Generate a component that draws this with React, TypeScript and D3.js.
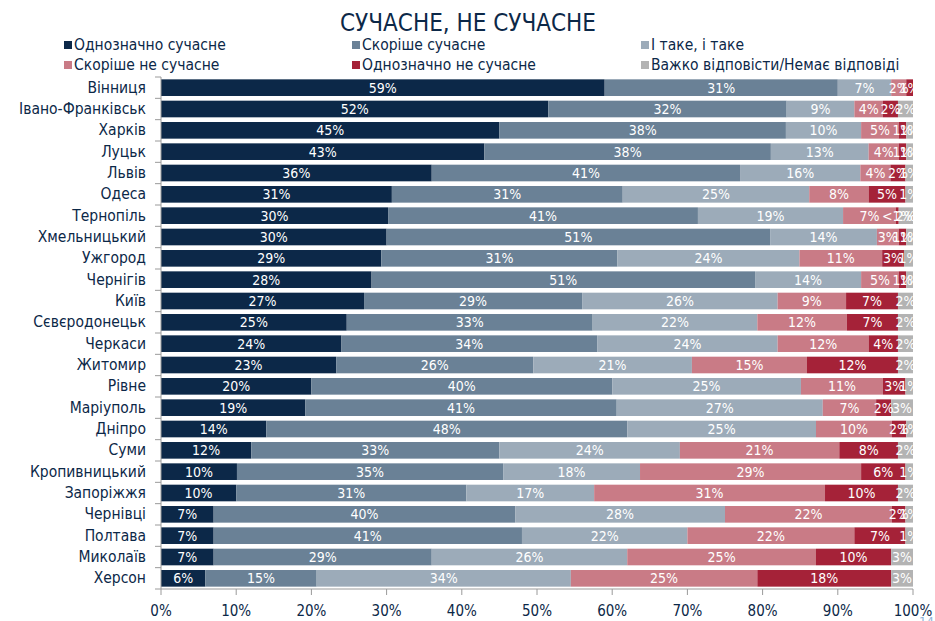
import React from "react";
import * as d3 from "d3";

const cities = ["Вінниця","Івано-Франківськ","Харків","Луцьк","Львів","Одеса","Тернопіль","Хмельницький","Ужгород","Чернігів","Київ","Сєвєродонецьк","Черкаси","Житомир","Рівне","Маріуполь","Дніпро","Суми","Кропивницький","Запоріжжя","Чернівці","Полтава","Миколаїв","Херсон"];

const seriesNames = ["Однозначно сучасне","Скоріше сучасне","І таке, і таке","Скоріше не сучасне","Однозначно не сучасне","Важко відповісти/Немає відповіді"];
const seriesColors = ["#0c2848","#6a8196","#9cabb9","#c97b86","#a52238","#b3b3b3"];

const definitelyModern = [59,51.5,45,43,36,30.7,30.2,30,29.3,28,27,24.7,24,23.3,20,19.2,14,12,10.1,10,7,7,7,5.9];
const ratherModern = [31,31.7,38.1,38.1,41,30.7,41.2,51,31.4,51,29,32.7,34,26.2,40,41.4,48,33,35.4,30.6,40.1,41,29,14.8];
const both = [7.1,9,10,13,16,24.8,19.3,14.2,24.2,14.1,26,21.9,24,21.1,25.1,27.4,25.1,24,18.2,17,27.9,22,26,33.8];
const ratherNot = [2,3.8,5,4,4,7.9,7,2.9,11,5,9.1,11.9,12.1,15.3,10.9,7.1,10.1,21.2,29.4,30.7,22.2,22.2,25.1,24.8];
const definitelyNot = [0.9,2,1,1,2,4.9,0.4,1,2.9,1,6.9,6.8,3.9,12.1,3,2,1.9,7.8,5.9,9.7,1.8,6.8,10,17.8];
const hardToSay = [0,2,0.9,0.9,1,1,1.9,0.9,1.2,0.9,2,2,2,2,1,2.9,0.9,2,1,2,1,1,2.9,2.9];

const xTicks = [0,10,20,30,40,50,60,70,80,90,100];

const W = 935, H = 621;
const margin = { left: 161, right: 22, top: 77, bottom: 32 };
const FONT = "'Liberation Sans Narrow', 'DejaVu Sans Condensed', 'Open Sans', sans-serif";

export default function App() {
  const series = [definitelyModern, ratherModern, both, ratherNot, definitelyNot, hardToSay];
  const x = d3.scaleLinear().domain([0, 100]).range([margin.left, W - margin.right]);
  const y = d3.scaleBand<string>().domain(cities).range([margin.top, H - margin.bottom]).paddingInner(0.22).paddingOuter(0.11);
  const step = y.step();
  const rows = cities.map((c, i) => {
    let acc = 0;
    return series.map((s, k) => {
      const v = s[i];
      const seg = { k, x0: acc, x1: acc + v, v };
      acc += v;
      return seg;
    });
  });
  const fmt = (v: number) => (v <= 0 ? "" : v < 0.5 ? "<1%" : `${Math.round(v)}%`);
  const axisColor = "#9a9a9a";
  const legendX = [64, 352, 641];
  const legendY = [45, 65];
  return (
    <svg width={W} height={H} style={{ position: "absolute", left: 0, top: 0, background: "#fff" }} fontFamily={FONT}>
      <text x={468} y={31} textAnchor="middle" fontSize={24} fill="#0c2848">СУЧАСНЕ, НЕ СУЧАСНЕ</text>
      {seriesNames.map((n, k) => {
        const lx = legendX[k % 3], ly = legendY[Math.floor(k / 3)];
        return (
          <g key={n}>
            <rect x={lx} y={ly - 4} width={8} height={8} fill={seriesColors[k]} />
            <text x={lx + 10} y={ly + 5} fontSize={15.5} fill="#0c2848">{n}</text>
          </g>
        );
      })}
      {rows.map((segs, i) => (
        <g key={cities[i]}>
          {segs.map(s => s.v > 0 ? (
            <rect key={s.k} x={x(s.x0)} y={y(cities[i])!} width={x(s.x1) - x(s.x0)} height={y.bandwidth()} fill={seriesColors[s.k]} />
          ) : null)}
          {segs.map(s => (
            <text key={"t" + s.k} x={(x(s.x0) + x(s.x1)) / 2} y={y(cities[i])! + y.bandwidth() / 2 + 5} textAnchor="middle" fontSize={14} fill="#fff">{fmt(s.v)}</text>
          ))}
          <text x={146} y={y(cities[i])! + y.bandwidth() / 2 + 5} textAnchor="end" fontSize={15.5} fill="#0c2848">{cities[i]}</text>
        </g>
      ))}
      <line x1={margin.left} x2={margin.left} y1={margin.top} y2={H - margin.bottom} stroke={axisColor} />
      {d3.range(cities.length + 1).map(j => (
        <line key={"yt" + j} x1={margin.left - 6} x2={margin.left} y1={margin.top + j * step} y2={margin.top + j * step} stroke={axisColor} />
      ))}
      <line x1={margin.left} x2={W - margin.right} y1={H - margin.bottom} y2={H - margin.bottom} stroke={axisColor} />
      {xTicks.map(t => (
        <g key={"xt" + t}>
          <line x1={x(t)} x2={x(t)} y1={H - margin.bottom} y2={H - margin.bottom + 6} stroke={axisColor} />
          <text x={x(t)} y={H - 5} textAnchor="middle" fontSize={15} fill="#0c2848">{t}%</text>
        </g>
      ))}
      <text x={919} y={626} fontSize={13} fill="#8fb3d9">14</text>
    </svg>
  );
}
